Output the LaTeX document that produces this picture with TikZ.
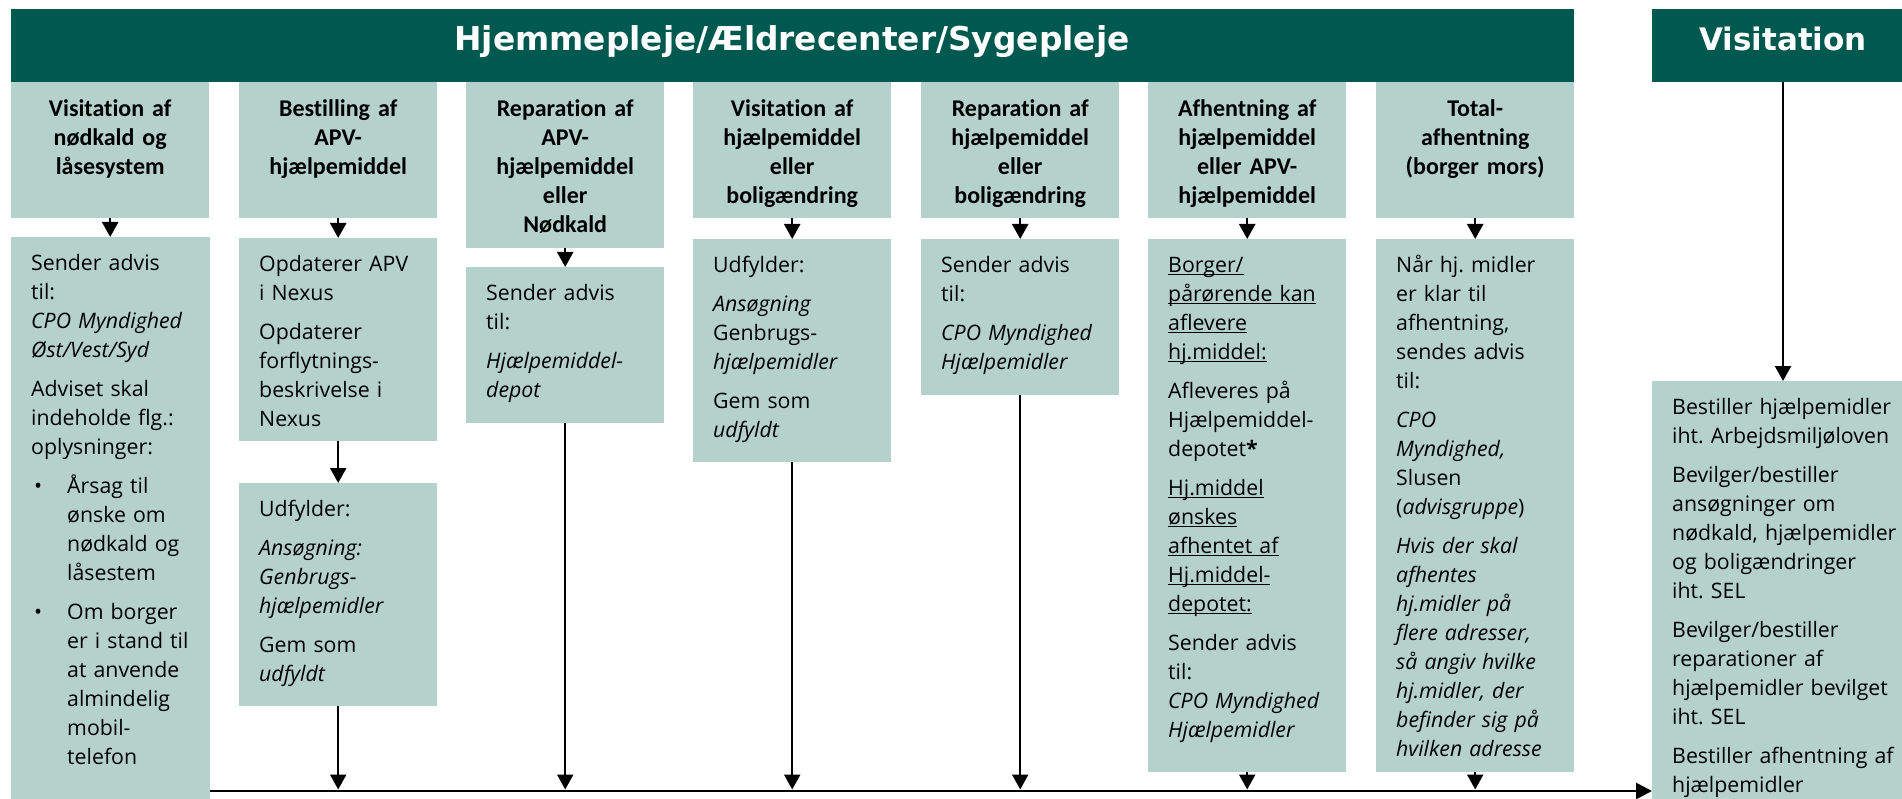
\documentclass[tikz,border=0pt]{standalone}
\usepackage{fontspec}
\setmainfont{Open Sans}
\newfontfamily\titlefont[Ligatures=NoCommon]{Carlito}
\newfontfamily\headfont{DejaVu Sans}
\usetikzlibrary{arrows.meta}
\definecolor{hdr}{HTML}{00594F}
\definecolor{boxc}{HTML}{B5D1CC}
\frenchspacing
\newcommand{\firststrut}{\rule{0pt}{20pt}}
\newcommand{\tstrut}{\rule{0pt}{22pt}}
\newcommand{\bul}{\hspace*{3pt}\makebox[33pt][l]{•}}
\newcommand{\bind}{\hspace*{36pt}}
\newcommand{\uln}[1]{\leavevmode\setbox0\hbox{#1}\rlap{\rule[-3.2pt]{\wd0}{1.1pt}}\box0}
\begin{document}
\begin{tikzpicture}[x=1pt,y=-1pt,
 hbar/.style={fill=hdr, inner sep=0, anchor=north west},
 lbox/.style={fill=boxc, inner sep=0, anchor=north west},
 htext/.style={text=white, font=\headfont\bfseries\fontsize{31}{36}\selectfont, anchor=base, inner sep=0},
 ttext/.style={font=\titlefont\bfseries\fontsize{24}{29}\selectfont, text width=196pt, align=center, anchor=north, inner sep=0},
 btext/.style={font=\fontsize{21.3}{29}\selectfont, text width=215pt, align=left, anchor=north west, inner sep=0},
 arr/.style={line width=2.3pt, -{Triangle[length=15pt,width=16pt]}},
]
\useasboundingbox (0,0) rectangle (1902,799);
% headers
\node[hbar, minimum width=1563pt, minimum height=73pt] (hd) at (11,9) {};
\node[hbar, minimum width=250pt, minimum height=73pt] (vh) at (1652,9) {};
\node[htext, font=\headfont\bfseries\fontsize{32.8}{38}\selectfont] (hdt) at (792,51) {Hjemmepleje/Ældrecenter/Sygepleje};
\node[htext] (vht) at (1783,51) {Visitation};
% title boxes
\node[lbox, minimum width=198pt, minimum height=136pt] (t1) at (11,82) {};
\node[lbox, minimum width=198pt, minimum height=136pt] (t2) at (239,82) {};
\node[lbox, minimum width=198pt, minimum height=166pt] (t3) at (466,82) {};
\node[lbox, minimum width=198pt, minimum height=136pt] (t4) at (693,82) {};
\node[lbox, minimum width=198pt, minimum height=136pt] (t5) at (921,82) {};
\node[lbox, minimum width=198pt, minimum height=136pt] (t6) at (1148,82) {};
\node[lbox, minimum width=198pt, minimum height=136pt] (t7) at (1376,82) {};
\node[ttext] (tt1) at ([yshift=-12pt]t1.north) {\tstrut Visitation af\\ nødkald og\\ låsesystem};
\node[ttext] (tt2) at ([yshift=-12pt]t2.north) {\tstrut Bestilling af\\ APV-\\ hjælpemiddel};
\node[ttext] (tt3) at ([yshift=-12pt]t3.north) {\tstrut Reparation af\\ APV-\\ hjælpemiddel\\ eller\\ Nødkald};
\node[ttext] (tt4) at ([yshift=-12pt]t4.north) {\tstrut Visitation af\\ hjælpemiddel\\ eller\\ boligændring};
\node[ttext] (tt5) at ([yshift=-12pt]t5.north) {\tstrut Reparation af\\ hjælpemiddel\\ eller\\ boligændring};
\node[ttext] (tt6) at ([yshift=-12pt]t6.north) {\tstrut Afhentning af\\ hjælpemiddel\\ eller APV-\\ hjælpemiddel};
\node[ttext] (tt7) at ([yshift=-12pt]t7.north) {\tstrut Total-\\ afhentning\\ (borger mors)};
% content boxes
\node[lbox, minimum width=199pt, minimum height=562pt] (c1) at (11,237) {};
\node[lbox, minimum width=198pt, minimum height=203pt] (c2a) at (239,238) {};
\node[lbox, minimum width=198pt, minimum height=223pt] (c2b) at (239,483) {};
\node[lbox, minimum width=198pt, minimum height=156pt] (c3) at (466,267) {};
\node[lbox, minimum width=198pt, minimum height=223pt] (c4) at (693,239) {};
\node[lbox, minimum width=198pt, minimum height=156pt] (c5) at (921,239) {};
\node[lbox, minimum width=198pt, minimum height=533pt] (c6) at (1148,239) {};
\node[lbox, minimum width=198pt, minimum height=533pt] (c7) at (1376,239) {};
\node[lbox, minimum width=250pt, minimum height=418pt] (vb) at (1652,381) {};
% content texts
\node[btext] (c1t) at ([xshift=20pt,yshift=-13pt]c1.north west) {\firststrut Sender advis\\ til:\\ \textit{CPO Myndighed}\\ \textit{Øst/Vest/Syd}\\[10pt]
Adviset skal\\ indeholde flg.:\\ oplysninger:\\[10pt]
\bul Årsag til\\ \bind ønske om\\ \bind nødkald og\\ \bind låsestem\\[10pt]
\bul Om borger\\ \bind er i stand til\\ \bind at anvende\\ \bind almindelig\\ \bind mobil-\\ \bind telefon};
\node[btext] (c2at) at ([xshift=20pt,yshift=-13pt]c2a.north west) {\firststrut Opdaterer APV\\ i Nexus\\[10pt] Opdaterer\\ forflytnings-\\ beskrivelse i\\ Nexus};
\node[btext] (c2bt) at ([xshift=20pt,yshift=-13pt]c2b.north west) {\firststrut Udfylder:\\[10pt] \textit{Ansøgning:}\\ \textit{Genbrugs-}\\ \textit{hjælpemidler}\\[10pt] Gem som\\ \textit{udfyldt}};
\node[btext] (c3t) at ([xshift=20pt,yshift=-13pt]c3.north west) {\firststrut Sender advis\\ til:\\[10pt] \textit{Hjælpemiddel-}\\ \textit{depot}};
\node[btext] (c4t) at ([xshift=20pt,yshift=-13pt]c4.north west) {\firststrut Udfylder:\\[10pt] \textit{Ansøgning}\\ Genbrugs-\\ \textit{hjælpemidler}\\[10pt] Gem som\\ \textit{udfyldt}};
\node[btext] (c5t) at ([xshift=20pt,yshift=-13pt]c5.north west) {\firststrut Sender advis\\ til:\\[10pt] \textit{CPO Myndighed}\\ \textit{Hjælpemidler}};
\node[btext] (c6t) at ([xshift=20pt,yshift=-13pt]c6.north west) {\firststrut\uln{Borger/}\\ \uln{pårørende kan}\\ \uln{aflevere}\\ \uln{hj.middel:}\\[10pt]
Afleveres på\\ Hjælpemiddel-\\ depotet\textbf{*}\\[10pt]
\uln{Hj.middel}\\ \uln{ønskes}\\ \uln{afhentet af}\\ \uln{Hj.middel-}\\ \uln{depotet:}\\[10pt]
Sender advis\\ til:\\ \textit{CPO Myndighed}\\ \textit{Hjælpemidler}};
\node[btext] (c7t) at ([xshift=20pt,yshift=-13pt]c7.north west) {\firststrut Når hj. midler\\ er klar til\\ afhentning,\\ sendes advis\\ til:\\[10pt]
\textit{CPO}\\ \textit{Myndighed,}\\ Slusen\\ (\textit{advisgruppe})\\[10pt]
\textit{Hvis der skal}\\ \textit{afhentes}\\ \textit{hj.midler på}\\ \textit{flere adresser,}\\ \textit{så angiv hvilke}\\ \textit{hj.midler, der}\\ \textit{befinder sig på}\\ \textit{hvilken adresse}};
\node[btext, text width=260pt] (vbt) at ([xshift=20pt,yshift=-13pt]vb.north west) {\firststrut Bestiller hjælpemidler\\ iht. Arbejdsmiljøloven\\[10pt]
Bevilger/bestiller\\ ansøgninger om\\ nødkald, hjælpemidler\\ og boligændringer\\ iht. SEL\\[10pt]
Bevilger/bestiller\\ reparationer af\\ hjælpemidler bevilget\\ iht. SEL\\[10pt]
Bestiller afhentning af\\ hjælpemidler};
% short arrows
\draw[arr] (t1.south) -- (t1.south |- c1.north);
\draw[arr] (t2.south) -- (c2a.north);
\draw[arr] (c2a.south) -- (c2b.north);
\draw[arr] (t3.south) -- (c3.north);
\draw[arr] (t4.south) -- (c4.north);
\draw[arr] (t5.south) -- (c5.north);
\draw[arr] (t6.south) -- (c6.north);
\draw[arr] (t7.south) -- (c7.north);
% main line
\coordinate (hl) at (210,791);
\coordinate (va) at (1783,82);
\draw[line width=2.8pt, -{Triangle[length=16pt,width=16pt]}] (c1.east |- hl) -- (vb.west |- hl);
\draw[arr] (c2b.south) -- ([yshift=1.5pt]c2b.south |- hl);
\draw[arr] (c3.south) -- ([yshift=1.5pt]c3.south |- hl);
\draw[arr] (c4.south) -- ([yshift=1.5pt]c4.south |- hl);
\draw[arr] (c5.south) -- ([yshift=1.5pt]c5.south |- hl);
\draw[arr] (c6.south) -- ([yshift=1.5pt]c6.south |- hl);
\draw[arr] (c7.south) -- ([yshift=1.5pt]c7.south |- hl);
\draw[arr] (vh.south -| va) -- (vb.north -| va);
\end{tikzpicture}
\end{document}
